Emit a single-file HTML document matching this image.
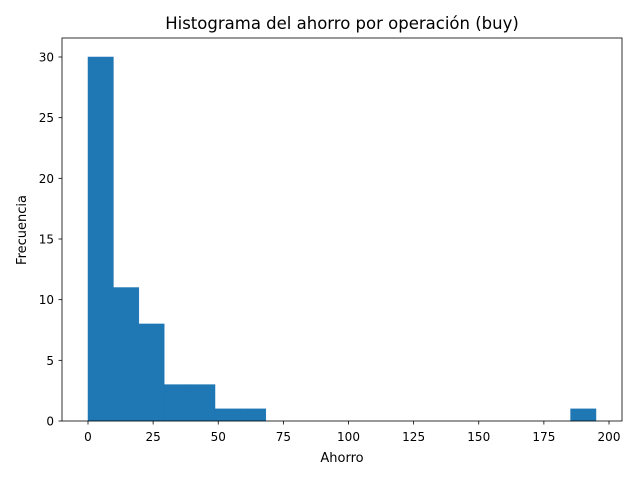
<!DOCTYPE html>
<html><head><meta charset="utf-8"><style>
body{margin:0;background:#fff;}
svg text{font-family:"DejaVu Sans","Liberation Sans",sans-serif;fill:#000;}
</style></head><body>
<svg id="chart" width="640" height="480" viewBox="0 0 640 480">
<rect x="0" y="0" width="640" height="480" fill="#fff"/>
<text x="342" y="29" font-size="16.5" text-anchor="middle">Histograma del ahorro por operación (buy)</text>
<g id="bars"></g>
<rect x="62" y="38" width="560" height="383" fill="none" stroke="#000" stroke-width="0.8"/>
<g id="xticks"></g>
<g id="yticks"></g>
<text x="342" y="462" font-size="13" text-anchor="middle">Ahorro</text>
<text x="26" y="230" font-size="13" text-anchor="middle" transform="rotate(-90 26 230)">Frecuencia</text>
</svg>
<script>
const binStart = 0;
const binEnd = 195;
const counts = [30, 11, 8, 3, 3, 1, 1, 0, 0, 0, 0, 0, 0, 0, 0, 0, 0, 0, 0, 1];
const xTickLabels = [0, 25, 50, 75, 100, 125, 150, 175, 200];
const yTickLabels = [0, 5, 10, 15, 20, 25, 30];

const NS = "http://www.w3.org/2000/svg";
function xs(v){ return 88 + v * (609 - 88) / 200; }
function ys(v){ return 421 - v * (421 - 57) / 30; }
function mk(tag, attrs){ const e = document.createElementNS(NS, tag); for (const k in attrs) e.setAttribute(k, attrs[k]); return e; }

const bw = (binEnd - binStart) / counts.length;
const bars = document.getElementById('bars');
counts.forEach((c, i) => {
  if (c <= 0) return;
  const x0 = xs(binStart + i * bw), x1 = xs(binStart + (i + 1) * bw);
  const r = mk('rect', {x: x0, y: ys(c), width: x1 - x0, height: ys(0) - ys(c), fill: '#1f77b4', stroke: '#1f77b4', 'stroke-width': 0.5});
  
  
  bars.appendChild(r);
});
const xg = document.getElementById('xticks');
xTickLabels.forEach(v => {
  const x = xs(v);
  const l = mk('line', {x1: x, x2: x, y1: 421, y2: 424.5, stroke: '#000', 'stroke-width': 0.8});
  
  
  xg.appendChild(l);
  const t = mk('text', {x: x, y: 441, 'font-size': 12, 'text-anchor': 'middle'});
  
  
  t.textContent = v;
  xg.appendChild(t);
});
const yg = document.getElementById('yticks');
yTickLabels.forEach(v => {
  const y = ys(v);
  const l = mk('line', {x1: 58.5, x2: 62, y1: y, y2: y, stroke: '#000', 'stroke-width': 0.8});
  
  
  yg.appendChild(l);
  const t = mk('text', {x: 54, y: y + 4.5, 'font-size': 12, 'text-anchor': 'end'});
  
  
  t.textContent = v;
  yg.appendChild(t);
});
</script>
</body></html>
